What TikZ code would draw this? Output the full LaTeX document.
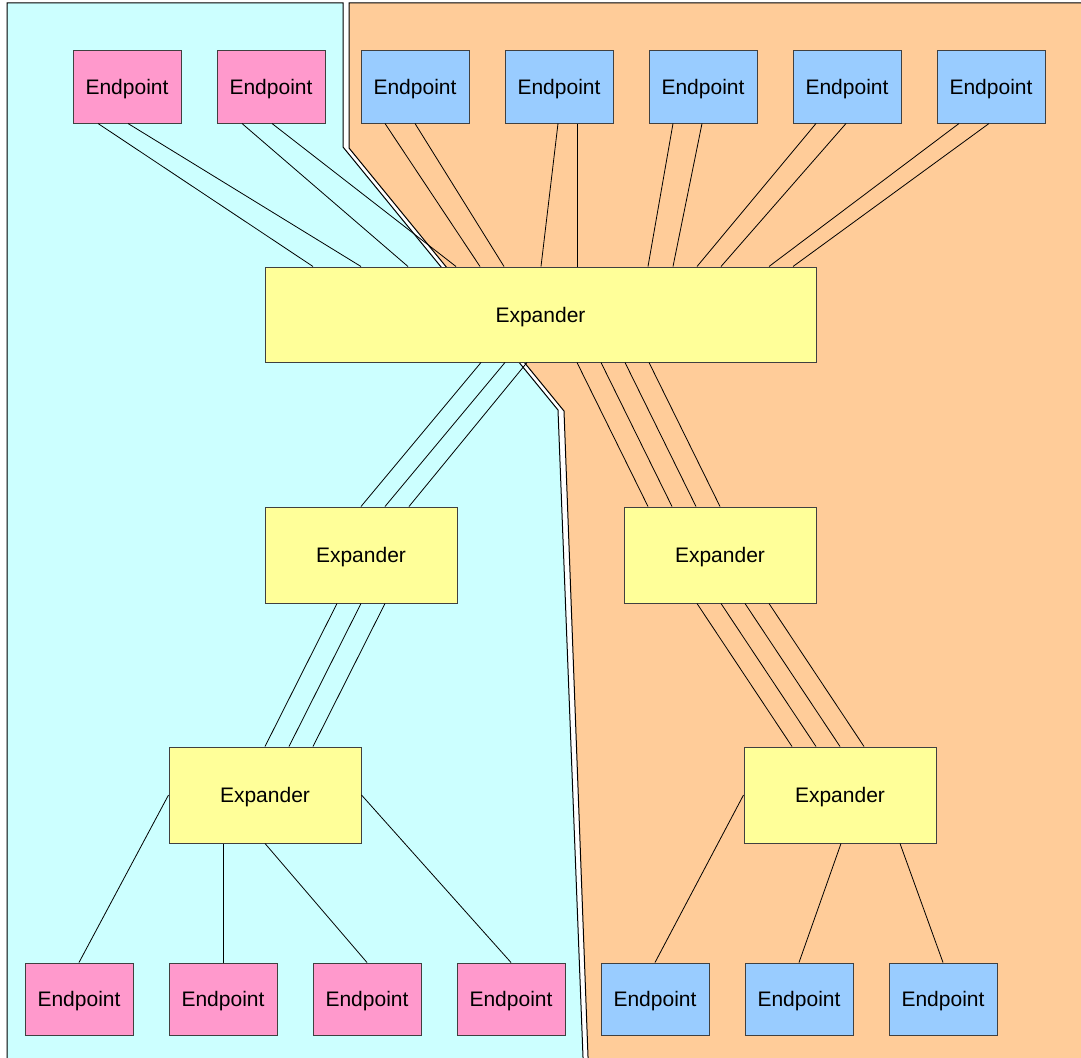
\documentclass[tikz,border=0pt]{standalone}
\usepackage{fontspec}
\setmainfont{Liberation Sans}
\definecolor{regCyan}{HTML}{CCFFFF}
\definecolor{regOrange}{HTML}{FFCC99}
\definecolor{epPink}{HTML}{FF99CC}
\definecolor{epBlue}{HTML}{99CCFF}
\definecolor{exYellow}{HTML}{FFFF99}
\begin{document}
\begin{tikzpicture}[x=1pt,y=-1pt,
  box/.style={draw=black!75, line width=1pt, inner sep=0pt, text height=15pt, text depth=0pt, font=\fontsize{21}{25}\selectfont},
  endpt/.style={box, minimum width=108pt, minimum height=72pt},
  pinkep/.style={endpt, fill=epPink},
  blueep/.style={endpt, fill=epBlue},
  expander/.style={box, fill=exYellow, minimum height=96pt},
  link/.style={draw=black, line width=0.8pt},
  region/.style={draw=black, line width=1pt}]
\useasboundingbox (0,0) rectangle (1081,1057);
\clip (0,0) rectangle (1081,1057);
% regions
\path[region, fill=regCyan] (7,3) -- (343,3) -- (343,147) -- (558,410) -- (583.5,1070) -- (7,1070) -- cycle;
\path[region, fill=regOrange] (349,3) -- (1100,3) -- (1100,1070) -- (588.5,1070) -- (564,411) -- (349,148) -- cycle;
% top endpoints
\node[pinkep] (tp1) at (127,87) {Endpoint};
\node[pinkep] (tp2) at (271,87) {Endpoint};
\node[blueep] (tb1) at (415,87) {Endpoint};
\node[blueep] (tb2) at (559,87) {Endpoint};
\node[blueep] (tb3) at (703,87) {Endpoint};
\node[blueep] (tb4) at (847,87) {Endpoint};
\node[blueep] (tb5) at (991,87) {Endpoint};
% expanders
\node[expander, minimum width=551pt, minimum height=95pt] (ex0) at (540.5,314.5) {Expander};
\node[expander, minimum width=192pt] (exml) at (361,555) {Expander};
\node[expander, minimum width=192pt] (exmr) at (720,555) {Expander};
\node[expander, minimum width=192pt] (exll) at (265,795) {Expander};
\node[expander, minimum width=192pt] (exlr) at (840,795) {Expander};
% bottom endpoints
\node[pinkep] (bp1) at (79,999) {Endpoint};
\node[pinkep] (bp2) at (223,999) {Endpoint};
\node[pinkep] (bp3) at (367,999) {Endpoint};
\node[pinkep] (bp4) at (511,999) {Endpoint};
\node[blueep] (bb1) at (655,999) {Endpoint};
\node[blueep] (bb2) at (799,999) {Endpoint};
\node[blueep] (bb3) at (943,999) {Endpoint};
% top links
\draw[link] ([xshift=-29pt]tp1.south) -- ([xshift=-227.5pt]ex0.north);
\draw[link] ([xshift=1pt]tp1.south) -- ([xshift=-179.5pt]ex0.north);
\draw[link] ([xshift=-29pt]tp2.south) -- ([xshift=-132.5pt]ex0.north);
\draw[link] ([xshift=1pt]tp2.south) -- ([xshift=-84.5pt]ex0.north);
\draw[link] ([xshift=-30pt]tb1.south) -- ([xshift=-60.5pt]ex0.north);
\draw[link] ([xshift=0pt]tb1.south) -- ([xshift=-36.5pt]ex0.north);
\draw[link] ([xshift=-1pt]tb2.south) -- ([xshift=0.5pt]ex0.north);
\draw[link] ([xshift=18pt]tb2.south) -- ([xshift=36.5pt]ex0.north);
\draw[link] ([xshift=-30pt]tb3.south) -- ([xshift=107.5pt]ex0.north);
\draw[link] ([xshift=-1pt]tb3.south) -- ([xshift=132.5pt]ex0.north);
\draw[link] ([xshift=-31pt]tb4.south) -- ([xshift=156.5pt]ex0.north);
\draw[link] ([xshift=-1pt]tb4.south) -- ([xshift=180.5pt]ex0.north);
\draw[link] ([xshift=-32pt]tb5.south) -- ([xshift=228.5pt]ex0.north);
\draw[link] ([xshift=-2pt]tb5.south) -- ([xshift=252.5pt]ex0.north);
% top expander to middle expanders
\draw[link] ([xshift=-59.5pt]ex0.south) -- ([xshift=0pt]exml.north);
\draw[link] ([xshift=-35.5pt]ex0.south) -- ([xshift=24pt]exml.north);
\draw[link] ([xshift=-13.5pt]ex0.south) -- ([xshift=48pt]exml.north);
\draw[link] ([xshift=36.5pt]ex0.south) -- ([xshift=-72pt]exmr.north);
\draw[link] ([xshift=60.5pt]ex0.south) -- ([xshift=-48pt]exmr.north);
\draw[link] ([xshift=84.5pt]ex0.south) -- ([xshift=-24pt]exmr.north);
\draw[link] ([xshift=108.5pt]ex0.south) -- ([xshift=0pt]exmr.north);
% middle to lower expanders
\draw[link] ([xshift=-24pt]exml.south) -- ([xshift=0pt]exll.north);
\draw[link] ([xshift=0pt]exml.south) -- ([xshift=24pt]exll.north);
\draw[link] ([xshift=24pt]exml.south) -- ([xshift=48pt]exll.north);
\draw[link] ([xshift=-23pt]exmr.south) -- ([xshift=-48pt]exlr.north);
\draw[link] ([xshift=1pt]exmr.south) -- ([xshift=-24pt]exlr.north);
\draw[link] ([xshift=25pt]exmr.south) -- ([xshift=0pt]exlr.north);
\draw[link] ([xshift=49pt]exmr.south) -- ([xshift=24pt]exlr.north);
% lower expanders to bottom endpoints
\draw[link] (exll.west) -- (bp1.north);
\draw[link] ([xshift=-42pt]exll.south) -- (bp2.north);
\draw[link] (exll.south) -- (bp3.north);
\draw[link] (exll.east) -- (bp4.north);
\draw[link] (exlr.west) -- (bb1.north);
\draw[link] ([xshift=1pt]exlr.south) -- (bb2.north);
\draw[link] ([xshift=60pt]exlr.south) -- (bb3.north);
\end{tikzpicture}
\end{document}
